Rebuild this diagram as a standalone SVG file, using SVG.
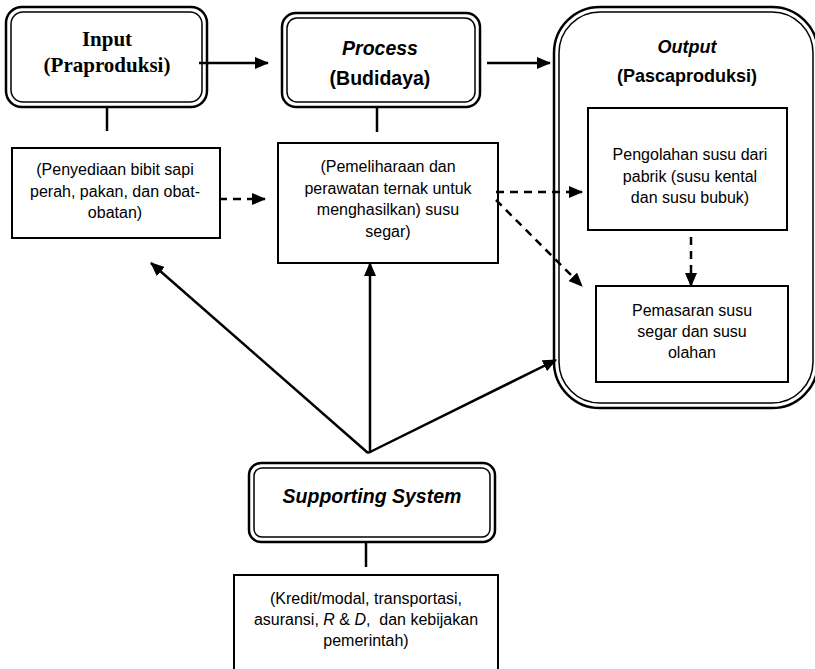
<svg xmlns="http://www.w3.org/2000/svg" width="815" height="669" viewBox="0 0 815 669">
<style>
.bg{fill:#fff}
.outer{fill:none;stroke:#000;stroke-width:2.5}
.inner{fill:#fff;stroke:#000;stroke-width:1.5}
.box{fill:#fff;stroke:#000;stroke-width:2}
.t{font-family:"Liberation Sans",Arial,sans-serif;font-size:16px;fill:#000;text-anchor:middle}
.h{font-family:"Liberation Sans",Arial,sans-serif;font-size:19.5px;font-weight:bold;fill:#000;text-anchor:middle}
.ho{font-size:18px}
.hs{font-family:"Liberation Serif","Times New Roman",serif;font-size:21px;font-weight:bold;fill:#000;text-anchor:middle}
.i{font-style:italic}
.solid{fill:none;stroke:#000;stroke-width:2.5}
.dash{fill:none;stroke:#000;stroke-width:2.5;stroke-dasharray:8,6}
</style>
<defs>
<marker id="ah" viewBox="0 0 14 12" refX="13" refY="6" markerWidth="14" markerHeight="12" markerUnits="userSpaceOnUse" orient="auto">
<path d="M0,0 L14,6 L0,12 z" fill="#000"/>
</marker>
</defs>
<rect class="bg" x="0" y="0" width="815" height="669"/>

<g id="input">
<rect class="outer" x="6" y="7" width="201" height="100" rx="16"/>
<rect class="inner" x="11" y="12" width="191" height="90" rx="12"/>
<text class="hs" x="107" y="46">Input</text>
<text class="hs" x="107" y="72">(Praproduksi)</text>
</g>

<g id="process">
<rect class="outer" x="282" y="13" width="198" height="94" rx="14"/>
<rect class="inner" x="287" y="18" width="188" height="84" rx="10"/>
<text class="h i" x="380" y="55">Process</text>
<text class="h" x="380" y="85">(Budidaya)</text>
</g>

<g id="output">
<rect class="outer" x="554" y="7" width="264" height="401" rx="46"/>
<rect class="inner" x="559" y="12" width="254" height="391" rx="41"/>
<text class="h ho i" x="687" y="53">Output</text>
<text class="h ho" x="687" y="82">(Pascaproduksi)</text>
</g>

<g id="input-detail">
<rect class="box" x="12" y="148" width="208" height="90"/>
<text class="t" x="115" y="175">(Penyediaan bibit sapi</text>
<text class="t" x="115" y="197">perah, pakan, dan obat-</text>
<text class="t" x="115" y="218">obatan)</text>
</g>

<g id="process-detail">
<rect class="box" x="278" y="143" width="220" height="120"/>
<text class="t" x="388" y="172">(Pemeliharaan dan</text>
<text class="t" x="388" y="194">perawatan ternak untuk</text>
<text class="t" x="388" y="215">menghasilkan) susu</text>
<text class="t" x="388" y="237">segar)</text>
</g>

<g id="pengolahan">
<rect class="box" x="588" y="108" width="199" height="122"/>
<text class="t" x="690" y="160">Pengolahan susu dari</text>
<text class="t" x="690" y="182">pabrik (susu kental</text>
<text class="t" x="690" y="203">dan susu bubuk)</text>
</g>

<g id="pemasaran">
<rect class="box" x="596" y="286" width="192" height="96"/>
<text class="t" x="692" y="316">Pemasaran susu</text>
<text class="t" x="692" y="337">segar dan susu</text>
<text class="t" x="692" y="358">olahan</text>
</g>

<g id="supporting">
<rect class="outer" x="249" y="463" width="246" height="79" rx="12"/>
<rect class="inner" x="254" y="468" width="236" height="69" rx="8"/>
<text class="h i" x="372" y="503">Supporting System</text>
</g>

<g id="supporting-detail">
<rect class="box" x="234" y="575" width="264" height="100"/>
<text class="t" x="366" y="604">(Kredit/modal, transportasi,</text>
<text class="t" x="366" y="625">asuransi, <tspan class="i">R</tspan> &amp; <tspan class="i">D</tspan>,&#160; dan kebijakan</text>
<text class="t" x="366" y="646">pemerintah)</text>
</g>

<g id="connectors">
<line class="solid" x1="107" y1="107" x2="107" y2="131"/>
<line class="solid" x1="377" y1="107" x2="377" y2="132"/>
<line class="solid" x1="366" y1="542" x2="366" y2="567"/>
<line class="solid" x1="199" y1="63" x2="268" y2="63" marker-end="url(#ah)"/>
<line class="solid" x1="487" y1="63" x2="550" y2="63" marker-end="url(#ah)"/>
<line class="dash" x1="219" y1="199" x2="265" y2="199" marker-end="url(#ah)"/>
<line class="dash" x1="496" y1="192" x2="582" y2="192" marker-end="url(#ah)"/>
<line class="dash" x1="496" y1="200" x2="582" y2="286" marker-end="url(#ah)"/>
<line class="dash" x1="691" y1="237" x2="691" y2="286" marker-end="url(#ah)"/>
<line class="solid" x1="368" y1="453" x2="151" y2="263" marker-end="url(#ah)"/>
<line class="solid" x1="370" y1="453" x2="370" y2="263" marker-end="url(#ah)"/>
<line class="solid" x1="368" y1="453" x2="556" y2="360" marker-end="url(#ah)"/>
</g>
</svg>
